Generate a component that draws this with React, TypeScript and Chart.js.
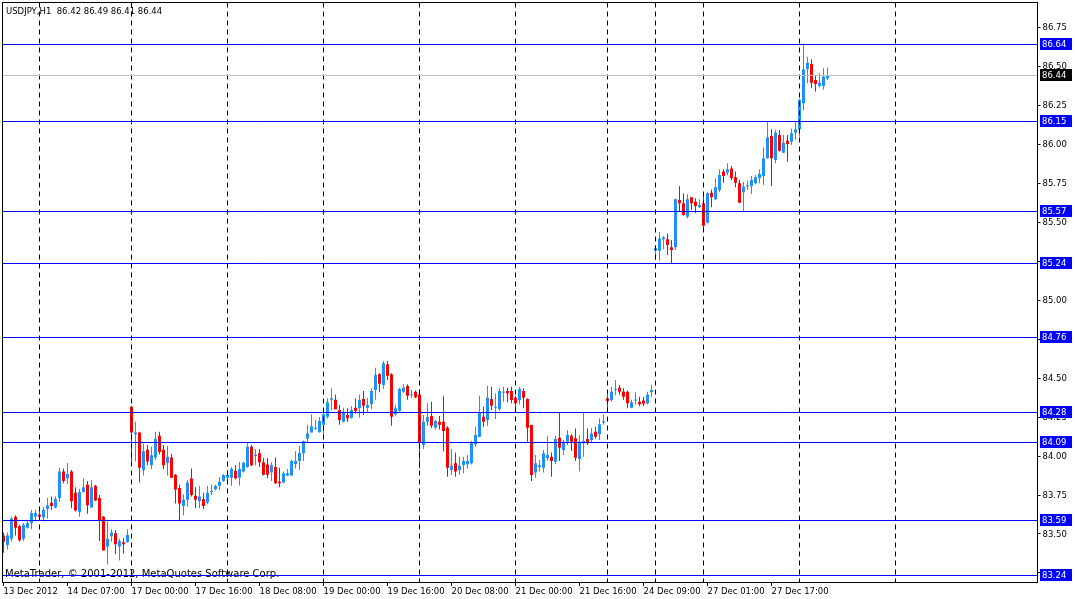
import React, { useEffect, useRef } from "react";
import { Chart, registerables } from "chart.js";

Chart.register(...registerables);

const symbolLabel = "USDJPY,H1";
const copyrightText = "MetaTrader, © 2001-2012, MetaQuotes Software Corp.";

// Hourly OHLC, bar 0 = 13 Dec 2012 15:00
const opens = [
  83.49, 83.43, 83.47, 83.61, 83.55, 83.47, 83.54, 83.57, 83.61, 83.625,
  83.605, 83.66, 83.70, 83.67, 83.73, 83.90, 83.855, 83.90, 83.765, 83.64,
  83.77, 83.815, 83.67, 83.81, 83.73, 83.61, 83.42, 83.485, 83.505, 83.42,
  83.447, 83.447, 84.315, 84.14, 84.15, 83.91, 84.04, 83.94, 83.99, 84.13,
  84.04, 83.955, 83.99, 83.88, 83.795, 83.68, 83.72, 83.855, 83.745, 83.71,
  83.725, 83.70, 83.77, 83.787, 83.81, 83.84, 83.861, 83.86, 83.905, 83.86,
  83.90, 83.93, 84.06, 84.0, 84.017, 83.96, 83.945, 83.895, 83.93, 83.835,
  83.83, 83.875, 83.875, 83.947, 83.968, 84.017, 84.11, 84.15, 84.175, 84.152,
  84.20, 84.252, 84.36, 84.36, 84.295, 84.22, 84.263, 84.246, 84.31, 84.306,
  84.365, 84.31, 84.331, 84.423, 84.524, 84.455, 84.588, 84.524, 84.267, 84.288,
  84.412, 84.449, 84.39, 84.412, 84.395, 84.07, 84.22, 84.256, 84.181, 84.22,
  84.22, 84.181, 83.91, 83.953, 83.91, 83.942, 83.947, 83.953, 84.075, 84.124,
  84.252, 84.231, 84.365, 84.31, 84.301, 84.405, 84.417, 84.417, 84.374, 84.359,
  84.417, 84.365, 84.199, 83.895, 83.93, 83.925, 83.985, 83.995, 83.963, 84.117,
  84.038, 84.092, 84.13, 84.113, 83.981, 84.081, 84.109, 84.103, 84.156, 84.139,
  84.215, 84.37, 84.359, 84.425, 84.438, 84.412, 84.412, 84.31, 84.355, 84.348,
  84.355, 84.338, 84.408, 85.316, 85.316, 85.39, 85.389, 85.338, 85.338, 85.641,
  85.62, 85.534, 85.658, 85.63, 85.594, 85.62, 85.496, 85.688, 85.646, 85.705,
  85.823, 85.816, 85.843, 85.787, 85.748, 85.69, 85.727, 85.731, 85.748, 85.78,
  85.795, 85.908, 86.051, 85.897, 86.058, 85.944, 86.021, 86.015, 86.072, 86.094,
  86.261, 86.479, 86.513, 86.41, 86.372, 86.372, 86.42,
];
const highs = [
  83.51, 83.51, 83.61, 83.62, 83.56, 83.57, 83.59, 83.655, 83.655, 83.665,
  83.675, 83.73, 83.74, 83.74, 83.925, 83.92, 83.955, 83.91, 83.80, 83.79,
  83.855, 83.84, 83.845, 83.815, 83.75, 83.615, 83.58, 83.53, 83.525, 83.47,
  83.475, 83.53, 84.32, 84.22, 84.155, 84.08, 84.07, 84.06, 84.155, 84.155,
  84.07, 84.065, 84.015, 83.885, 83.815, 83.755, 83.845, 83.92, 83.80, 83.81,
  83.765, 83.81, 83.815, 83.815, 83.865, 83.885, 83.91, 83.93, 83.94, 83.963,
  83.965, 84.09, 84.07, 84.045, 84.045, 83.985, 83.985, 83.96, 83.99, 83.925,
  83.90, 83.917, 83.975, 84.03, 84.065, 84.10, 84.20, 84.267, 84.23, 84.25,
  84.295, 84.37, 84.434, 84.395, 84.327, 84.31, 84.306, 84.32, 84.37, 84.395,
  84.417, 84.37, 84.434, 84.566, 84.53, 84.609, 84.609, 84.53, 84.327, 84.438,
  84.46, 84.46, 84.423, 84.42, 84.40, 84.263, 84.338, 84.348, 84.233, 84.256,
  84.387, 84.19, 84.045, 84.023, 83.995, 83.995, 84.006, 84.096, 84.188, 84.387,
  84.316, 84.45, 84.444, 84.402, 84.434, 84.444, 84.438, 84.444, 84.387, 84.444,
  84.434, 84.37, 84.20, 84.006, 83.974, 84.038, 84.13, 84.023, 84.13, 84.28,
  84.103, 84.167, 84.14, 84.177, 84.135, 84.28, 84.177, 84.18, 84.188, 84.242,
  84.267, 84.391, 84.444, 84.487, 84.455, 84.434, 84.42, 84.36, 84.408, 84.38,
  84.38, 84.412, 84.455, 85.353, 85.438, 85.41, 85.427, 85.385, 85.65, 85.731,
  85.684, 85.679, 85.66, 85.652, 85.646, 85.684, 85.694, 85.709, 85.78, 85.838,
  85.838, 85.876, 85.859, 85.823, 85.77, 85.758, 85.765, 85.795, 85.801, 85.838,
  85.979, 86.143, 86.094, 86.09, 86.09, 86.058, 86.058, 86.10, 86.143, 86.29,
  86.645, 86.56, 86.543, 86.442, 86.453, 86.485, 86.49,
];
const lows = [
  83.38, 83.40, 83.45, 83.49, 83.45, 83.455, 83.535, 83.53, 83.59, 83.585,
  83.58, 83.60, 83.655, 83.665, 83.705, 83.825, 83.82, 83.665, 83.645, 83.61,
  83.765, 83.63, 83.67, 83.71, 83.455, 83.395, 83.305, 83.45, 83.37, 83.33,
  83.375, 83.445, 83.965, 83.965, 83.83, 83.875, 83.94, 83.915, 83.975, 84.01,
  83.915, 83.875, 83.86, 83.695, 83.59, 83.62, 83.675, 83.74, 83.665, 83.665,
  83.66, 83.69, 83.75, 83.78, 83.78, 83.835, 83.83, 83.81, 83.85, 83.81,
  83.895, 83.925, 83.935, 83.94, 83.93, 83.875, 83.857, 83.84, 83.82, 83.80,
  83.825, 83.87, 83.87, 83.92, 83.91, 83.968, 84.09, 84.15, 84.167, 84.15,
  84.125, 84.24, 84.295, 84.30, 84.20, 84.215, 84.22, 84.24, 84.273, 84.246,
  84.263, 84.28, 84.30, 84.36, 84.408, 84.43, 84.487, 84.194, 84.258, 84.285,
  84.405, 84.36, 84.37, 84.37, 83.92, 84.045, 84.194, 84.18, 84.17, 84.17,
  84.03, 83.867, 83.878, 83.867, 83.88, 83.89, 83.92, 83.945, 84.06, 84.12,
  84.188, 84.194, 84.295, 84.237, 84.288, 84.348, 84.344, 84.338, 84.306, 84.331,
  84.306, 84.092, 83.84, 83.86, 83.90, 83.895, 83.97, 83.867, 83.947, 83.968,
  84.006, 84.07, 84.032, 83.968, 83.90, 83.995, 84.07, 84.09, 84.11, 84.103,
  84.20, 84.306, 84.348, 84.391, 84.395, 84.36, 84.306, 84.306, 84.33, 84.32,
  84.32, 84.33, 84.38, 85.256, 85.252, 85.325, 85.288, 85.235, 85.32, 85.566,
  85.54, 85.524, 85.577, 85.556, 85.59, 85.46, 85.49, 85.594, 85.64, 85.69,
  85.752, 85.80, 85.77, 85.722, 85.62, 85.566, 85.705, 85.679, 85.74, 85.748,
  85.737, 85.905, 85.731, 85.876, 85.95, 85.94, 85.887, 85.994, 86.026, 86.047,
  86.214, 86.389, 86.357, 86.335, 86.363, 86.35, 86.41,
];
const closes = [
  83.45, 83.49, 83.60, 83.54, 83.46, 83.56, 83.57, 83.635, 83.635, 83.61,
  83.655, 83.685, 83.68, 83.725, 83.90, 83.84, 83.885, 83.71, 83.65, 83.77,
  83.80, 83.685, 83.80, 83.715, 83.59, 83.395, 83.47, 83.51, 83.435, 83.455,
  83.434, 83.494, 84.15, 84.15, 83.925, 84.03, 83.965, 84.005, 84.11, 84.025,
  83.94, 83.995, 83.86, 83.785, 83.695, 83.72, 83.83, 83.75, 83.72, 83.74,
  83.68, 83.765, 83.775, 83.808, 83.835, 83.878, 83.878, 83.917, 83.857, 83.917,
  83.957, 84.06, 83.94, 84.01, 83.96, 83.88, 83.88, 83.94, 83.825, 83.825,
  83.89, 83.89, 83.968, 83.968, 84.019, 84.096, 84.145, 84.19, 84.18, 84.224,
  84.267, 84.344, 84.37, 84.30, 84.23, 84.28, 84.242, 84.295, 84.288, 84.359,
  84.322, 84.327, 84.417, 84.519, 84.463, 84.594, 84.515, 84.252, 84.306, 84.429,
  84.438, 84.387, 84.395, 84.376, 84.088, 84.22, 84.25, 84.194, 84.224, 84.20,
  84.16, 83.925, 83.938, 83.90, 83.938, 83.968, 83.968, 84.088, 84.135, 84.28,
  84.22, 84.374, 84.322, 84.315, 84.417, 84.412, 84.402, 84.359, 84.338, 84.429,
  84.374, 84.181, 83.878, 83.953, 83.94, 84.017, 84.006, 83.968, 84.109, 84.053,
  84.092, 84.135, 84.092, 83.989, 84.092, 84.096, 84.081, 84.145, 84.124, 84.203,
  84.222, 84.353, 84.412, 84.43, 84.412, 84.38, 84.338, 84.344, 84.36, 84.331,
  84.335, 84.395, 84.423, 85.331, 85.395, 85.40, 85.353, 85.321, 85.646, 85.62,
  85.545, 85.646, 85.62, 85.603, 85.609, 85.476, 85.684, 85.658, 85.722, 85.801,
  85.795, 85.838, 85.78, 85.752, 85.624, 85.727, 85.731, 85.769, 85.787, 85.808,
  85.908, 86.043, 85.908, 86.072, 85.957, 86.008, 86.0, 86.069, 86.094, 86.282,
  86.479, 86.521, 86.393, 86.385, 86.393, 86.432, 86.44,
];

const totalSlots = 259;
const xTickIndex = [0, 16, 32, 48, 64, 80, 96, 112, 128, 144, 160, 176, 192];
const xTickLabels = [
  "13 Dec 2012", "14 Dec 07:00", "17 Dec 00:00", "17 Dec 16:00", "18 Dec 08:00",
  "19 Dec 00:00", "19 Dec 16:00", "20 Dec 08:00", "21 Dec 00:00", "21 Dec 16:00",
  "24 Dec 09:00", "27 Dec 01:00", "27 Dec 17:00",
];
const separatorIndex = [9, 32, 56, 80, 104, 128, 151, 163, 175, 199, 223];
const levelValues = [86.64, 86.15, 85.57, 85.24, 84.76, 84.28, 84.09, 83.59, 83.24];
const yTickValues = [
  83.25, 83.5, 83.75, 84.0, 84.25, 84.5, 84.75, 85.0, 85.25, 85.5, 85.75, 86.0, 86.25, 86.5, 86.75,
];
const yMin = 83.1923;
const yMax = 86.9103;

const BULL = "#1E90FF";
const BEAR = "#FF0000";
const LEVEL = "#0000FF";
const BID = "#C0C0C0";
const FONT = '"DejaVu Sans", sans-serif';
const FONT_SIZE = 8.5;
const COPYRIGHT_SIZE = 10;

export default function App() {
  const ref = useRef<HTMLCanvasElement>(null);

  useEffect(() => {
    document.body.style.margin = "0";
    const canvas = ref.current;
    if (!canvas) return;
    const n = opens.length;
    const labels = Array.from({ length: totalSlots }, (_, i) => String(i));
    const bodies = labels.map((_, i) => (i < n ? [opens[i], closes[i]] : null));
    const wicks = labels.map((_, i) => (i < n ? [lows[i], highs[i]] : null));
    const colors = labels.map((_, i) => (i < n && closes[i] < opens[i] ? BEAR : BULL));
    const fmt = (v: number) => v.toFixed(2);

    const overlay = {
      id: "mt4overlay",
      afterDraw(chart: any) {
        const { ctx, chartArea: a, scales } = chart;
        const xs = scales.x;
        const ys = scales.y;
        const L = Math.round(a.left) + 0.5;
        const R = Math.floor(a.right) + 0.5;
        const T = Math.round(a.top) + 0.5;
        const B = Math.floor(a.bottom) + 0.5;
        ctx.save();
        ctx.lineWidth = 1;

        // copyright
        ctx.font = `${COPYRIGHT_SIZE}px ${FONT}`;
        ctx.fillStyle = "#000";
        ctx.textAlign = "left";
        ctx.textBaseline = "alphabetic";
        ctx.fillText(copyrightText, 5, B - 5.5);

        // period separators
        ctx.strokeStyle = "#000";
        ctx.setLineDash([5, 4]);
        separatorIndex.forEach((idx) => {
          const px = Math.floor(xs.getPixelForValue(idx)) + 0.5;
          ctx.beginPath();
          ctx.moveTo(px, T);
          ctx.lineTo(px, B);
          ctx.stroke();
        });
        ctx.setLineDash([]);

        // bid line
        const bid = closes[closes.length - 1];
        const by = Math.round(ys.getPixelForValue(bid)) + 0.5;
        ctx.strokeStyle = BID;
        ctx.beginPath();
        ctx.moveTo(L, by);
        ctx.lineTo(R, by);
        ctx.stroke();

        // horizontal levels
        ctx.strokeStyle = LEVEL;
        levelValues.forEach((v) => {
          const py = Math.round(ys.getPixelForValue(v)) + 0.5;
          ctx.beginPath();
          ctx.moveTo(L, py);
          ctx.lineTo(R, py);
          ctx.stroke();
        });

        // frame
        ctx.strokeStyle = "#000";
        ctx.strokeRect(L, T, R - L, B - T);

        // header
        ctx.font = `${FONT_SIZE}px ${FONT}`;
        ctx.fillStyle = "#000";
        ctx.fillText(
          `${symbolLabel}  ${fmt(opens[n - 1])} ${fmt(highs[n - 1])} ${fmt(lows[n - 1])} ${fmt(bid)}`,
          6,
          14
        );

        // price labels on axis
        ctx.textBaseline = "middle";
        const drawTag = (v: number, bg: string) => {
          const py = Math.round(ys.getPixelForValue(v));
          ctx.fillStyle = bg;
          ctx.fillRect(Math.floor(a.right) + 3, py - 6, 32, 12);
          ctx.fillStyle = "#fff";
          ctx.fillText(fmt(v), Math.floor(a.right) + 5, py + 1);
        };
        levelValues.forEach((v) => drawTag(v, LEVEL));
        drawTag(bid, "#000");
        ctx.restore();
      },
    };

    const chart = new Chart(canvas, {
      type: "bar",
      data: {
        labels,
        datasets: [
          {
            data: wicks as any,
            backgroundColor: colors,
            barThickness: 1,
            grouped: false,
            borderWidth: 0,
            inflateAmount: 0,
          } as any,
          {
            data: bodies as any,
            backgroundColor: colors,
            barThickness: 3,
            grouped: false,
            borderWidth: 0,
            inflateAmount: 0,
            minBarLength: 1,
          } as any,
        ],
      },
      options: {
        responsive: false,
        animation: false,
        events: [],
        layout: { padding: { left: 1.5, top: 2, right: 0, bottom: 0 } },
        plugins: { legend: { display: false }, tooltip: { enabled: false } },
        scales: {
          x: {
            type: "category",
            offset: true,
            border: { display: false },
            grid: {
              display: true,
              drawOnChartArea: false,
              drawTicks: true,
              tickLength: 4,
              color: "#000",
              offset: false,
            },
            ticks: {
              autoSkip: false,
              maxRotation: 0,
              minRotation: 0,
              align: "start",
              padding: 1,
              color: "#000",
              font: { family: FONT, size: FONT_SIZE },
              callback: (_v: any, i: number) => xTickLabels[i] ?? "",
            },
            afterBuildTicks: (s: any) => {
              s.ticks = xTickIndex.map((v) => ({ value: v }));
            },
            afterFit: (s: any) => {
              s.height = 17;
              s.paddingLeft = 0;
              s.paddingRight = 0;
            },
          } as any,
          y: {
            type: "linear",
            position: "right",
            min: yMin,
            max: yMax,
            border: { display: false },
            grid: {
              display: true,
              drawOnChartArea: false,
              drawTicks: true,
              tickLength: 3,
              color: "#000",
            },
            ticks: {
              padding: 2,
              labelOffset: 1,
              color: "#000",
              font: { family: FONT, size: FONT_SIZE },
              callback: (v: any) => Number(v).toFixed(2),
            },
            afterBuildTicks: (s: any) => {
              s.ticks = yTickValues.map((v) => ({ value: v }));
            },
            afterFit: (s: any) => {
              s.width = 37.5;
              s.paddingTop = 0;
              s.paddingBottom = 0;
            },
          } as any,
        },
      },
      plugins: [overlay],
    });
    return () => chart.destroy();
  }, []);

  return <canvas ref={ref} width={1075} height={599} style={{ display: "block" }} />;
}
